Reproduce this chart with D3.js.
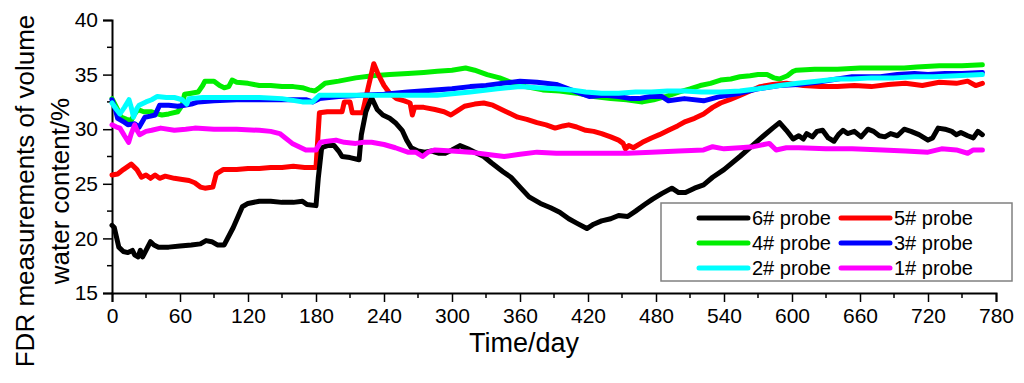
<!DOCTYPE html>
<html>
<head>
<meta charset="utf-8">
<script src="https://cdn.jsdelivr.net/npm/d3@7"></script>
<style>
  body { margin: 0; background: #fff; }
  svg text { font-family: Arial, "Liberation Sans", sans-serif; fill: #000; }
</style>
</head>
<body>
<script>
// Data: [day, volume water content %]
var probe6 = [[0,21.2],[2,21.0],[6,19.2],[10,18.8],[14,18.7],[18,18.9],[20,18.5],[23,18.3],[25,18.9],[27,18.3],[30,18.9],[34,19.7],[37,19.4],[41,19.2],[50,19.2],[60,19.3],[70,19.4],[78,19.5],[83,19.8],[88,19.7],[93,19.4],[99,19.4],[107,21.0],[115,22.9],[120,23.2],[130,23.4],[140,23.4],[150,23.3],[160,23.3],[168,23.4],[172,23.1],[180,23.0],[182,25.5],[185,28.3],[190,28.5],[196,28.5],[200,28.0],[203,27.5],[210,27.4],[218,27.2],[220,29.5],[224,31.6],[229,32.9],[234,31.8],[239,31.3],[245,31.0],[250,30.6],[256,29.9],[260,29.0],[264,28.3],[270,28.0],[276,27.9],[282,28.0],[288,27.8],[294,27.8],[300,28.1],[307,28.5],[314,28.2],[322,27.8],[328,27.5],[335,26.9],[345,26.1],[352,25.6],[360,24.7],[368,23.8],[378,23.2],[387,22.8],[395,22.4],[403,21.8],[410,21.4],[419,20.9],[425,21.3],[432,21.6],[440,21.8],[447,22.1],[455,22.0],[462,22.5],[470,23.1],[477,23.6],[485,24.1],[494,24.6],[500,24.2],[506,24.2],[514,24.6],[522,24.9],[530,25.6],[540,26.3],[554,27.5],[565,28.5],[575,29.4],[583,30.1],[589,30.6],[595,29.9],[601,29.1],[606,29.4],[610,29.1],[613,29.6],[618,29.3],[622,29.8],[627,29.9],[632,29.2],[637,28.9],[641,29.5],[645,29.9],[649,29.6],[655,29.8],[661,29.3],[667,30.0],[672,29.8],[677,29.4],[682,29.3],[687,29.6],[693,29.4],[699,30.0],[705,29.8],[712,29.5],[720,29.0],[724,29.2],[729,30.1],[735,30.0],[741,29.8],[745,29.5],[749,29.7],[755,29.4],[760,29.2],[764,29.8],[768,29.5]];
var probe5 = [[0,25.8],[5,25.9],[10,26.3],[17,26.8],[22,26.3],[26,25.6],[30,25.8],[34,25.5],[38,25.8],[42,25.5],[47,25.7],[55,25.5],[62,25.4],[68,25.3],[73,25.1],[78,24.7],[82,24.6],[89,24.7],[92,25.9],[98,26.3],[110,26.3],[120,26.4],[130,26.4],[140,26.5],[150,26.5],[160,26.6],[170,26.5],[180,26.5],[183,31.5],[190,31.6],[203,31.6],[205,32.5],[210,32.5],[212,31.5],[221,31.5],[226,33.8],[231,36.0],[235,35.0],[240,34.0],[245,33.3],[251,32.8],[258,32.6],[263,32.4],[265,31.3],[267,32.0],[275,32.0],[285,31.8],[293,31.6],[299,31.3],[305,31.7],[311,32.1],[320,32.3],[328,32.4],[336,32.2],[346,31.7],[358,31.1],[366,30.9],[375,30.6],[383,30.4],[391,30.1],[398,30.3],[403,30.4],[410,30.2],[418,29.9],[425,29.8],[432,29.6],[440,29.3],[447,29.0],[451,28.7],[453,28.2],[456,28.5],[460,28.3],[468,28.8],[476,29.2],[483,29.5],[491,29.9],[499,30.3],[506,30.7],[514,31.0],[522,31.4],[530,32.0],[537,32.4],[545,32.7],[554,33.1],[563,33.5],[572,33.9],[583,34.1],[595,34.2],[610,34.0],[625,33.9],[640,33.9],[655,34.0],[670,33.9],[685,34.1],[700,34.2],[715,34.0],[730,34.3],[745,34.2],[755,34.4],[762,34.0],[768,34.2]];
var probe4 = [[0,32.8],[4,32.0],[8,31.1],[13,30.9],[17,30.8],[20,31.4],[23,31.8],[28,31.6],[35,31.6],[40,31.4],[44,31.3],[50,31.4],[58,31.6],[62,32.2],[64,33.2],[70,33.3],[76,33.4],[80,34.0],[82,34.4],[90,34.4],[95,34.0],[99,33.8],[103,33.9],[106,34.5],[110,34.3],[120,34.2],[130,34.0],[140,34.0],[150,33.9],[160,33.9],[168,33.8],[174,33.6],[179,33.5],[183,33.8],[188,34.2],[200,34.4],[215,34.7],[230,34.9],[245,35.0],[261,35.1],[275,35.2],[287,35.3],[300,35.4],[312,35.6],[320,35.4],[331,35.0],[342,34.7],[352,34.3],[365,33.9],[380,33.6],[395,33.5],[410,33.3],[425,33.0],[440,32.8],[454,32.7],[468,32.5],[478,32.7],[489,33.0],[500,33.4],[510,33.7],[519,34.0],[528,34.2],[537,34.5],[546,34.6],[554,34.8],[563,34.9],[570,35.0],[578,35.0],[584,34.7],[589,34.6],[596,34.9],[601,35.3],[604,35.4],[620,35.5],[640,35.5],[660,35.6],[680,35.6],[699,35.6],[710,35.7],[730,35.8],[750,35.8],[768,35.9]];
var probe3 = [[0,32.7],[3,31.8],[5,31.0],[10,30.7],[14,30.4],[20,30.5],[24,30.2],[29,31.1],[34,31.2],[38,31.3],[42,32.2],[50,32.2],[58,32.1],[64,32.2],[70,32.3],[76,32.5],[90,32.6],[110,32.7],[130,32.7],[150,32.7],[171,32.7],[177,32.5],[183,32.8],[200,33.0],[220,33.1],[240,33.2],[261,33.4],[285,33.6],[300,33.7],[316,33.9],[330,34.0],[345,34.2],[360,34.4],[375,34.3],[392,34.1],[405,33.6],[421,33.0],[435,33.1],[447,33.0],[458,32.8],[465,32.8],[475,33.0],[485,33.0],[491,32.6],[505,32.8],[522,32.6],[537,33.0],[554,33.3],[570,33.7],[589,34.0],[605,34.1],[622,34.3],[640,34.6],[653,34.8],[665,34.8],[678,34.8],[693,35.0],[708,35.1],[720,35.0],[735,35.1],[750,35.1],[768,35.2]];
var probe2 = [[0,32.4],[4,31.8],[7,31.4],[11,32.0],[15,32.7],[17,32.0],[19,31.1],[22,31.9],[24,32.2],[30,32.5],[35,32.7],[40,33.0],[48,32.9],[55,32.9],[62,32.7],[66,32.3],[68,32.8],[80,32.9],[100,32.9],[130,32.9],[150,32.8],[168,32.5],[177,32.5],[183,33.1],[200,33.1],[230,33.1],[261,33.1],[287,33.1],[316,33.4],[340,33.7],[360,33.9],[375,33.8],[392,33.7],[405,33.6],[418,33.4],[432,33.3],[447,33.3],[462,33.4],[476,33.4],[490,33.5],[505,33.5],[520,33.4],[537,33.4],[554,33.5],[570,33.7],[589,34.0],[605,34.2],[622,34.4],[640,34.6],[653,34.6],[670,34.7],[690,34.7],[708,34.8],[725,34.8],[745,34.9],[768,35.0]];
var probe1 = [[0,30.4],[4,30.2],[7,30.1],[11,29.4],[14.7,28.8],[17,29.6],[20,30.4],[22,29.9],[24.4,29.5],[30,29.8],[35,29.9],[43,30.1],[55,29.9],[65,30.0],[73,30.1],[90,30.0],[110,30.0],[130,29.9],[140,29.8],[148,29.6],[153,29.2],[159,28.7],[165,28.4],[171,28.1],[180,28.1],[184,28.8],[190,28.9],[197.6,29.0],[205,28.8],[215,28.7],[222,28.8],[229,28.8],[240,28.6],[250,28.3],[261,27.9],[268,27.9],[274,27.5],[279,27.9],[285,28.1],[300,28.0],[316,27.9],[330,27.7],[346,27.5],[360,27.7],[375,27.9],[392,27.8],[410,27.8],[432,27.8],[455,27.8],[476,27.9],[500,28.0],[522,28.1],[530,28.4],[540,28.2],[554,28.3],[566,28.4],[580,28.7],[586,28.1],[595,28.3],[606,28.3],[630,28.2],[653,28.2],[680,28.1],[700,28.0],[720,27.9],[732,28.2],[745,28.1],[755,27.8],[760,28.1],[768,28.1]];

var legendNames = ["6# probe", "5# probe", "4# probe", "3# probe", "2# probe", "1# probe"];
var legendColors = ["#000000", "#ff0000", "#00ee00", "#0000ff", "#00ffff", "#ff00ff"];
var xTicks = [0, 60, 120, 180, 240, 300, 360, 420, 480, 540, 600, 660, 720, 780];
var yTicks = [15, 20, 25, 30, 35, 40];

var w = 1024, h = 383;
// plot area edges
var pLeft = 112, pRight = 996, pTop = 20, pBottom = 293;

var svg = d3.select("body").append("svg")
    .attr("width", w)
    .attr("height", h);

var x = d3.scaleLinear().domain([0, 780]).range([pLeft, pRight]);
var y = d3.scaleLinear().domain([15, 40]).range([pBottom, pTop]);

// minor ticks every half step
var xMinor = d3.range(30, 780, 60);
var yMinor = d3.range(17.5, 40, 5);

svg.selectAll(".xminor").data(xMinor).enter().append("line")
    .attr("x1", function(d) { return x(d); }).attr("x2", function(d) { return x(d); })
    .attr("y1", pBottom).attr("y2", pBottom + 5)
    .attr("stroke", "#000").attr("stroke-width", 1.5);
svg.selectAll(".yminor").data(yMinor).enter().append("line")
    .attr("y1", function(d) { return y(d); }).attr("y2", function(d) { return y(d); })
    .attr("x1", pLeft).attr("x2", pLeft - 5)
    .attr("stroke", "#000").attr("stroke-width", 1.5);

// x axis
var xAxis = svg.append("g")
    .attr("transform", "translate(0," + pBottom + ")")
    .call(d3.axisBottom(x).tickValues(xTicks).tickSize(9).tickPadding(6));
// y axis
var yAxis = svg.append("g")
    .attr("transform", "translate(" + pLeft + ",0)")
    .call(d3.axisLeft(y).tickValues(yTicks).tickSize(9).tickPadding(5));

[xAxis, yAxis].forEach(function(g) {
  g.attr("font-size", 21).attr("font-family", "Arial, 'Liberation Sans', sans-serif");
  g.select(".domain").attr("stroke-width", 2);
  g.selectAll(".tick line").attr("stroke-width", 1.5);
  g.selectAll(".tick text").style("font-size", "21px");
});

// axis titles
svg.append("text")
    .attr("x", 524)
    .attr("y", 352)
    .attr("text-anchor", "middle")
    .style("font-size", "27px")
    .text("Time/day");

// two-line y title, both lines centred on the same point
svg.append("text")
    .attr("transform", "translate(34,191) rotate(-90)")
    .attr("text-anchor", "middle")
    .style("font-size", "26px")
    .text("FDR measurements of volume");
svg.append("text")
    .attr("transform", "translate(69,191) rotate(-90)")
    .attr("text-anchor", "middle")
    .style("font-size", "26px")
    .text("water content/%");

// lines
var line = d3.line()
    .x(function(d) { return x(d[0]); })
    .y(function(d) { return y(d[1]); });

var drawOrder = [
  {data: probe4, color: legendColors[2]},
  {data: probe5, color: legendColors[1]},
  {data: probe6, color: legendColors[0]},
  {data: probe3, color: legendColors[3]},
  {data: probe2, color: legendColors[4]},
  {data: probe1, color: legendColors[5]}
];

svg.selectAll(".series").data(drawOrder).enter().append("path")
    .attr("class", "series")
    .attr("d", function(d) { return line(d.data); })
    .attr("fill", "none")
    .attr("stroke", function(d) { return d.color; })
    .attr("stroke-width", 5)
    .attr("stroke-linejoin", "round")
    .attr("stroke-linecap", "round");

// legend
svg.append("rect")
    .attr("x", 661).attr("y", 203)
    .attr("width", 351).attr("height", 78)
    .attr("fill", "#fff")
    .attr("stroke", "#808080")
    .attr("stroke-width", 1.5);

var legend = svg.selectAll(".legend").data(legendNames).enter().append("g")
    .attr("class", "legend")
    .attr("transform", function(d, i) {
      return "translate(" + (699 + (i % 2) * 142) + "," + (218 + Math.floor(i / 2) * 25) + ")";
    });

legend.append("line")
    .attr("x1", 0).attr("x2", 49)
    .attr("stroke", function(d, i) { return legendColors[i]; })
    .attr("stroke-width", 5)
    .attr("stroke-linecap", "round");

legend.append("text")
    .attr("x", 53)
    .attr("y", 7)
    .style("font-size", "20px")
    .text(function(d) { return d; });
</script>
</body>
</html>
